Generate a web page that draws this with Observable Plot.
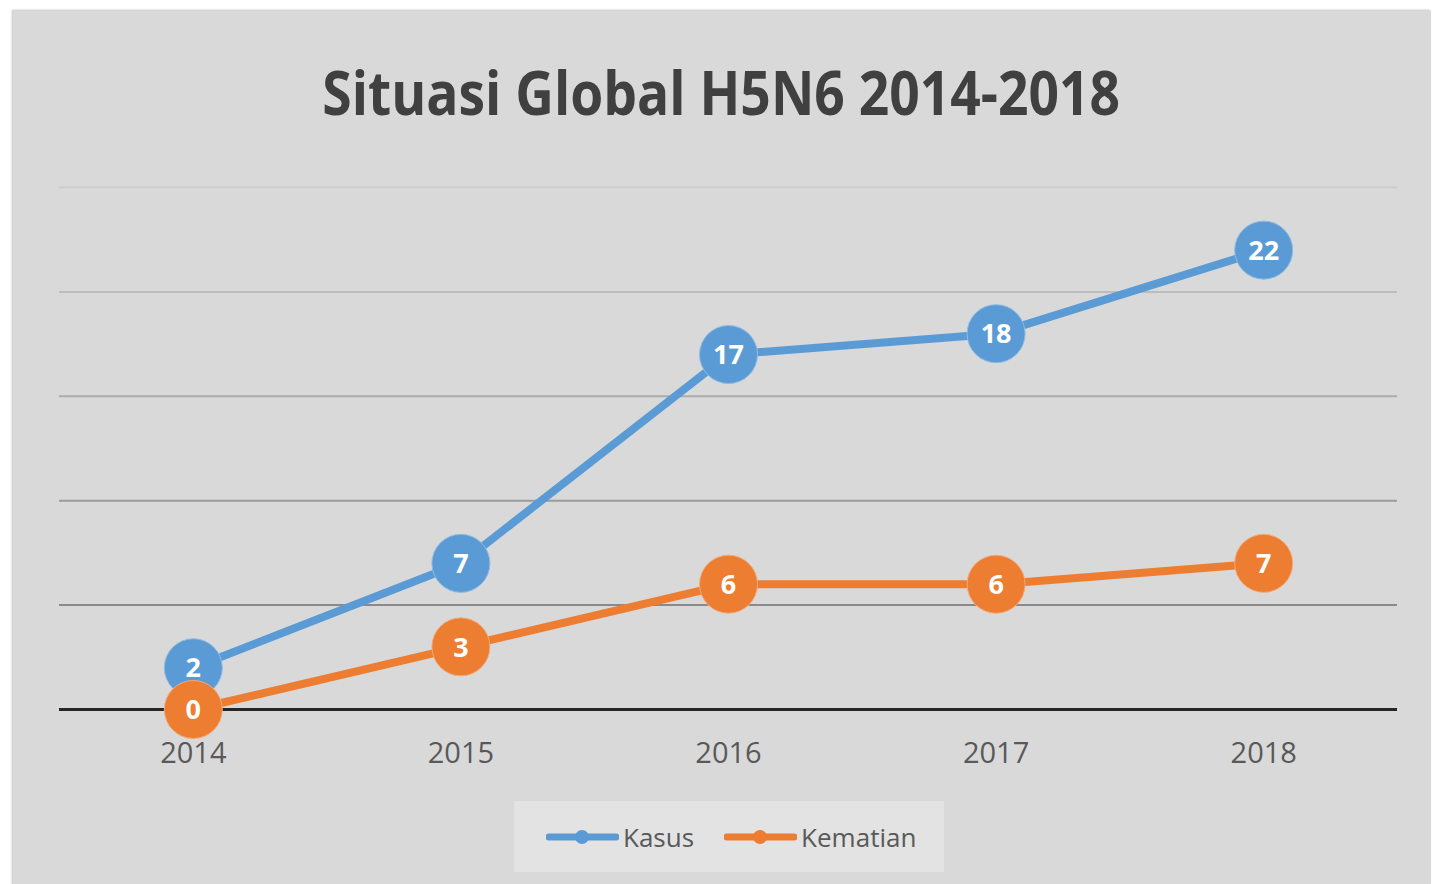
<!DOCTYPE html>
<html>
<head>
<meta charset="utf-8">
<script src="https://cdn.jsdelivr.net/npm/d3@7"></script>
<script src="https://cdn.jsdelivr.net/npm/@observablehq/plot@0.6"></script>
<style>
  html, body { margin: 0; padding: 0; background: #ffffff; }
  #wrap { position: relative; width: 1442px; height: 884px; overflow: hidden; font-family: "Open Sans", sans-serif; }
  #panel { position: absolute; left: 13px; top: 11px; width: 1418px; height: 880px; background: #d9d9d9;
           box-shadow: -1px -1px 2px rgba(0,0,0,0.25); }
  #title { position: absolute; left: 0; width: 1442px; top: 50px; text-align: center; white-space: nowrap;
           font-weight: 700; font-size: 60px; line-height: 84px; color: #404040; }
  #title span { display: inline-block; transform: scaleX(0.89); transform-origin: center; }
  #chart { position: absolute; left: 0; top: 0; }
  #legend { position: absolute; left: 514px; top: 801px; width: 430px; height: 71px; background: #e3e3e3;
            display: flex; align-items: center; justify-content: flex-start; padding-left: 32px; box-sizing: border-box;
            gap: 30px; color: #595959; font-size: 26px; }
  .item { display: flex; align-items: center; }
  .item svg { margin-right: 4px; }
</style>
</head>
<body>
<div id="wrap">
  <div id="panel"></div>
  <div id="title"><span>Situasi Global H5N6 2014-2018</span></div>
  <div id="chart"></div>
  <div id="legend"></div>
</div>
<script>
const years = ["2014", "2015", "2016", "2017", "2018"];
const kasus = [2, 7, 17, 18, 22];
const kematian = [0, 3, 6, 6, 7];
const seriesNames = ["Kasus", "Kematian"];
const seriesColors = ["#5b9bd5", "#ed7d31"];
const yTicks = [5, 10, 15, 20, 25];

const kasusRows = years.map((y, i) => ({year: y, value: kasus[i]}));
const kematianRows = years.map((y, i) => ({year: y, value: kematian[i]}));

const gridShade = d3.scaleLinear().domain([5, 25]).range(["#8a8a8a", "#cdcdcd"]);

const labelFont = {fill: "white", fontWeight: 700, fontSize: 27, fontFamily: "Open Sans", dy: 1};

const plot = Plot.plot({
  width: 1442,
  height: 800,
  marginLeft: 59,
  marginRight: 45,
  marginTop: 187,
  marginBottom: 91,
  style: {background: "transparent", fontFamily: "Open Sans"},
  x: {type: "point", domain: years, padding: 0.5, round: false, label: null},
  y: {domain: [0, 25], axis: null},
  marks: [
    Plot.ruleY(yTicks, {stroke: d => gridShade(d), strokeWidth: 2}),
    Plot.ruleY([0], {stroke: "#262626", strokeWidth: 3}),
    Plot.axisX({tickSize: 0, tickPadding: 33, fontSize: 29, color: "#595959", label: null}),
    Plot.line(kasusRows, {x: "year", y: "value", stroke: seriesColors[0], strokeWidth: 8}),
    Plot.line(kematianRows, {x: "year", y: "value", stroke: seriesColors[1], strokeWidth: 8}),
    Plot.dot(kasusRows, {x: "year", y: "value", r: 29, fill: seriesColors[0], stroke: "#8fbbe3", strokeWidth: 1}),
    Plot.text(kasusRows, {x: "year", y: "value", text: d => String(d.value), ...labelFont}),
    Plot.dot(kematianRows, {x: "year", y: "value", r: 29, fill: seriesColors[1], stroke: "#f3ab7e", strokeWidth: 1}),
    Plot.text(kematianRows, {x: "year", y: "value", text: d => String(d.value), ...labelFont})
  ]
});
document.getElementById("chart").appendChild(plot);

const legend = document.getElementById("legend");
seriesNames.forEach((name, i) => {
  const item = document.createElement("div");
  item.className = "item";
  item.innerHTML = `<svg width="73" height="20"><line x1="3" y1="10" x2="70" y2="10" stroke="${seriesColors[i]}" stroke-width="7" stroke-linecap="round"/><circle cx="36" cy="10" r="7" fill="${seriesColors[i]}"/></svg><span>${name}</span>`;
  legend.appendChild(item);
});
</script>
</body>
</html>
